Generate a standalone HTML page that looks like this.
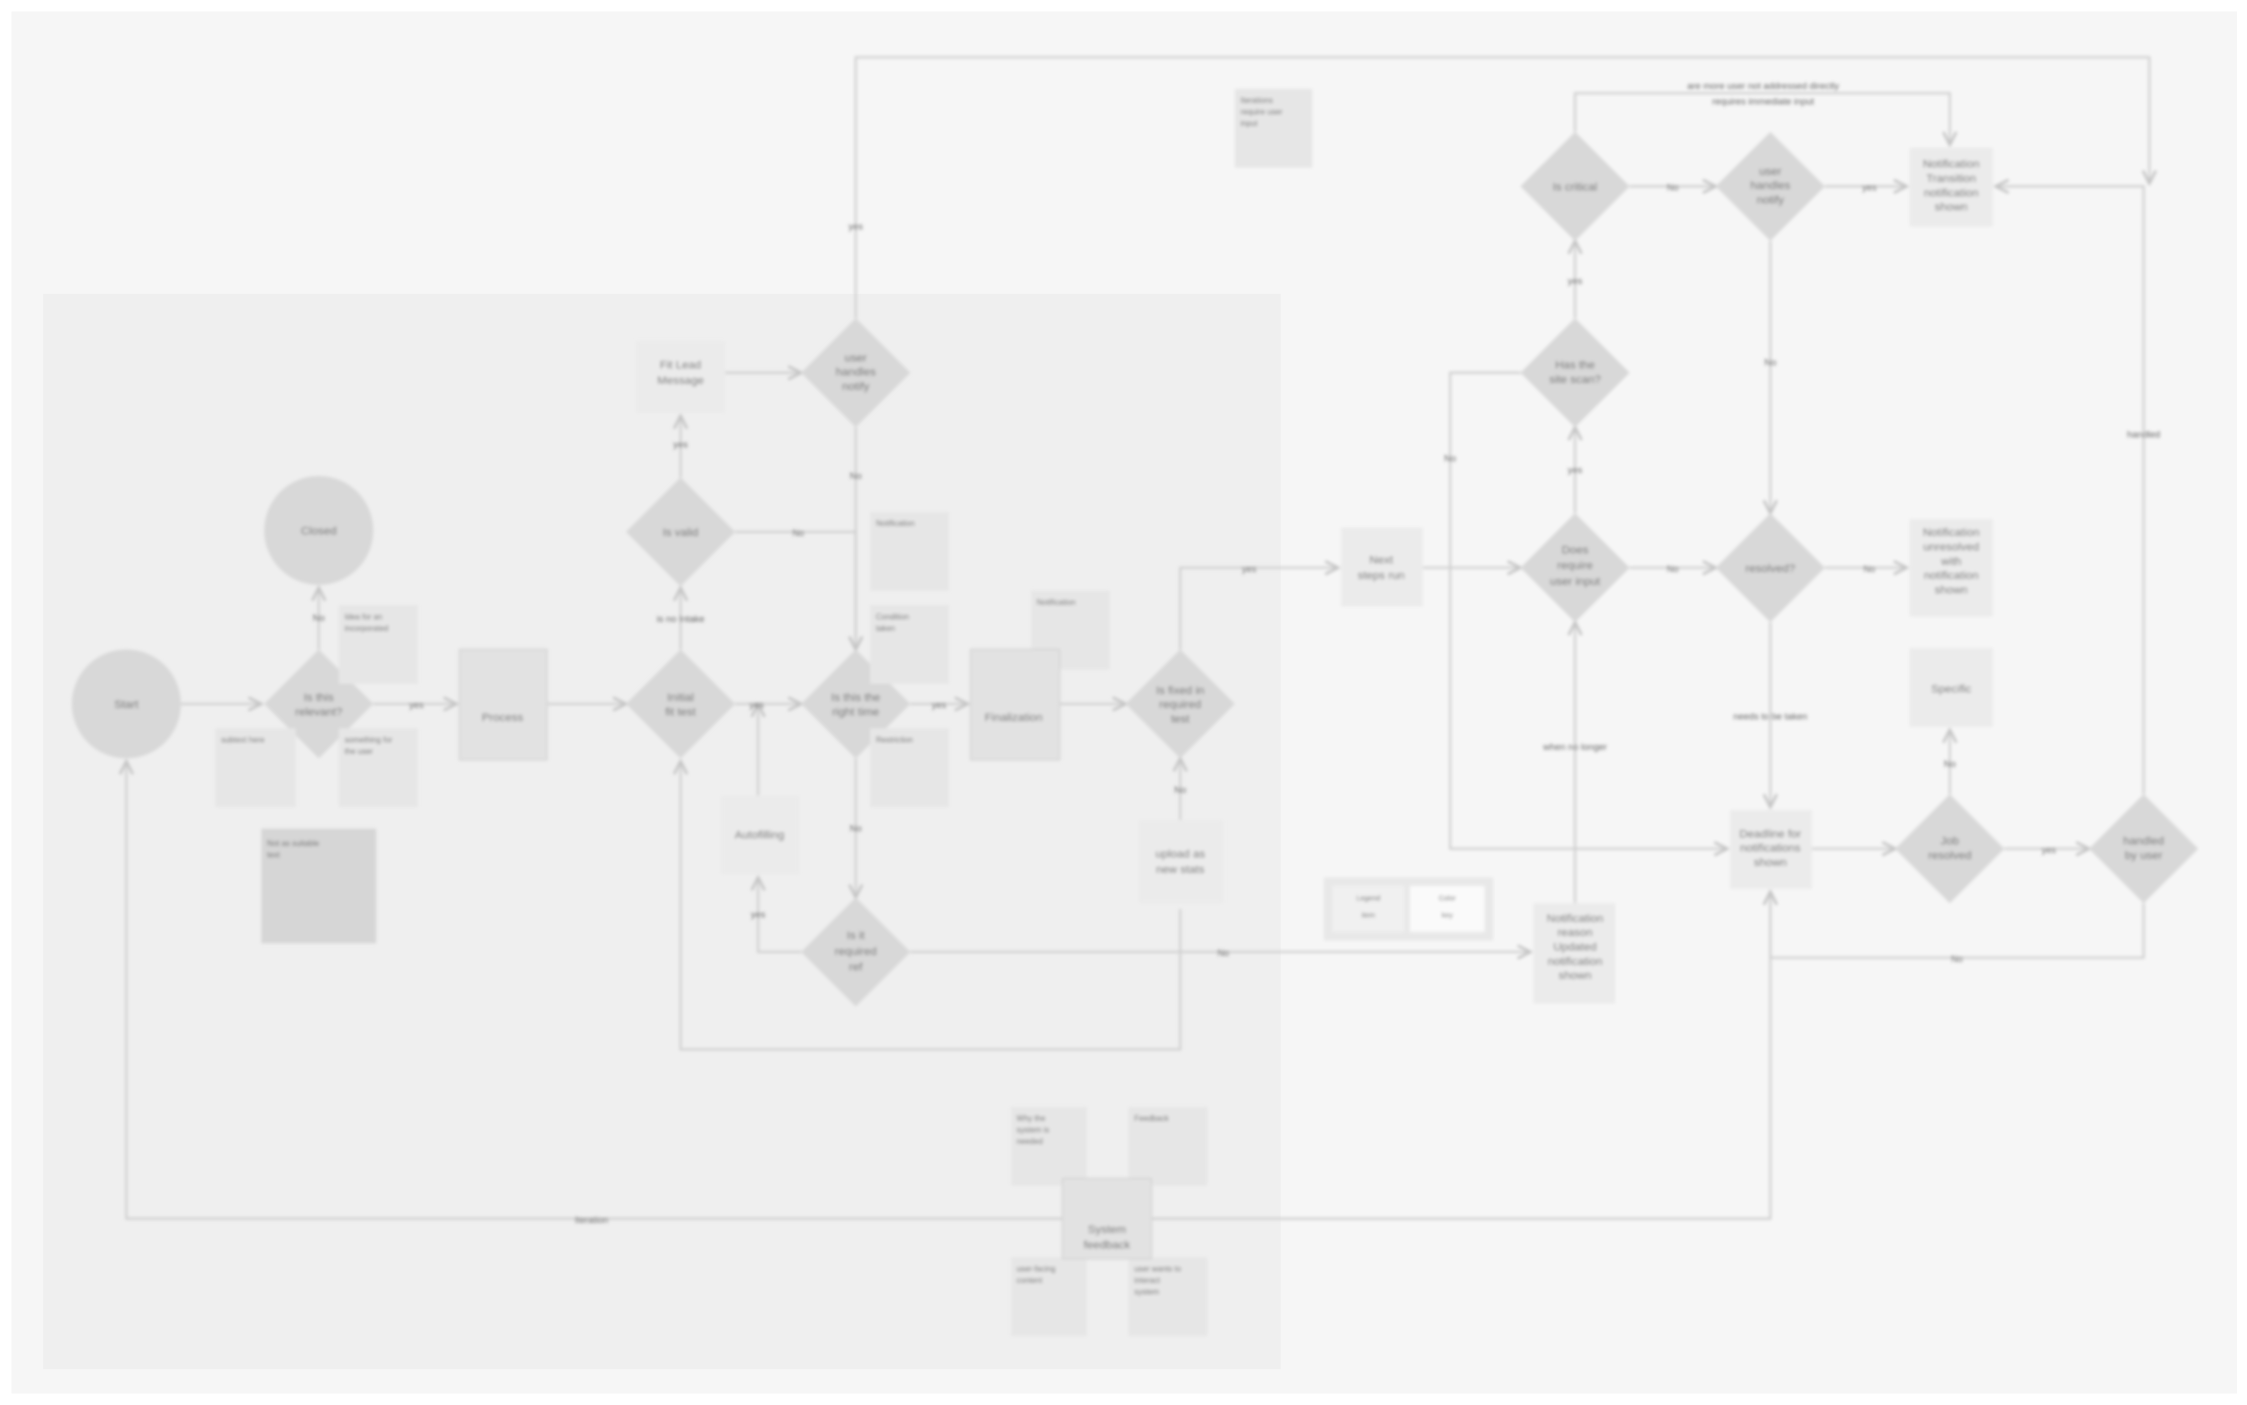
<!DOCTYPE html>
<html><head><meta charset="utf-8"><style>
html,body{margin:0;padding:0;background:#fff;}
svg{display:block}
text{font-family:"Liberation Sans",sans-serif;fill:#666;}
</style></head><body>
<svg width="2247" height="1405" viewBox="0 0 1565 980" preserveAspectRatio="none" xmlns="http://www.w3.org/2000/svg">
<defs>
<marker id="a" markerWidth="8" markerHeight="8" refX="7" refY="4" orient="auto"><path d="M1,1 L7,4 L1,7" fill="none" stroke="#c4c4c4" stroke-width="1.2"/></marker>
<filter id="b"><feGaussianBlur stdDeviation="1.2"/></filter>
</defs>
<rect x="8" y="8" width="1550" height="964" fill="#f6f6f6"/>
<rect x="30" y="205" width="862" height="750" fill="#efefef"/>
<g filter="url(#b)">
<g fill="none" stroke="#cfcfcf" stroke-width="1.5" marker-end="url(#a)">
<path d="M126,491 H182"/>
<path d="M260,491 H318"/>
<path d="M222,453 V410"/>
<path d="M381,491 H436"/>
<path d="M512,491 H558"/>
<path d="M634,491 H674"/>
<path d="M738,491 H784"/>
<path d="M474,453 V410"/>
<path d="M474,333 V290"/>
<path d="M512,371 H596 V453"/>
<path d="M505,260 H558"/>
<path d="M596,298 V453"/>
<path d="M596,529 V626"/>
<path d="M558,664 H528 V612"/>
<path d="M528,555 V491"/>
<path d="M634,664 H1066"/>
<path d="M822,572 V529"/>
<path d="M822,634 V732 H474 V531"/>
<path d="M822,453 V396 H932"/>
<path d="M991,396 H1059"/>
<path d="M1097,358 V298"/>
<path d="M1097,222 V168"/>
<path d="M1135,130 H1195"/>
<path d="M1271,130 H1328"/>
<path d="M1135,396 H1195"/>
<path d="M1271,396 H1328"/>
<path d="M1233,168 V358"/>
<path d="M1233,434 V563"/>
<path d="M1097,630 V434"/>
<path d="M1059,260 H1010 V592 H1203"/>
<path d="M1262,592 H1320"/>
<path d="M1396,592 H1455"/>
<path d="M1358,554 V509"/>
<path d="M1493,554 V130 H1390"/>
<path d="M1493,630 V668 H1233 V622"/>
<path d="M1097,92 V65 H1358 V101"/>
<path d="M596,222 V40 H1497 V128"/>
<path d="M740,850 H88 V531"/>
<path d="M802,850 H1233 V622"/>
</g>
<g fill="#d8d8d8">
<circle cx="88" cy="491" r="38"/>
<circle cx="222" cy="370" r="38"/>
<polygon points="222,453 260,491 222,529 184,491"/>
<polygon points="474,453 512,491 474,529 436,491"/>
<polygon points="474,333 512,371 474,409 436,371"/>
<polygon points="596,222 634,260 596,298 558,260"/>
<polygon points="596,453 634,491 596,529 558,491"/>
<polygon points="596,626 634,664 596,702 558,664"/>
<polygon points="822,453 860,491 822,529 784,491"/>
<polygon points="1097,92 1135,130 1097,168 1059,130"/>
<polygon points="1233,92 1271,130 1233,168 1195,130"/>
<polygon points="1097,222 1135,260 1097,298 1059,260"/>
<polygon points="1097,358 1135,396 1097,434 1059,396"/>
<polygon points="1233,358 1271,396 1233,434 1195,396"/>
<polygon points="1358,554 1396,592 1358,630 1320,592"/>
<polygon points="1493,554 1531,592 1493,630 1455,592"/>
</g>
<g fill="#e6e6e6">
<rect x="236" y="422" width="55" height="55"/>
<rect x="150" y="508" width="56" height="55"/>
<rect x="236" y="508" width="55" height="55"/>
<rect x="606" y="357" width="55" height="55"/>
<rect x="606" y="422" width="55" height="55"/>
<rect x="606" y="508" width="55" height="55"/>
<rect x="718" y="412" width="55" height="55"/>
<rect x="860" y="62" width="54" height="55"/>
<rect x="704" y="772" width="53" height="55"/>
<rect x="786" y="772" width="55" height="55"/>
<rect x="704" y="877" width="53" height="55"/>
<rect x="786" y="877" width="55" height="55"/>
</g>
<rect x="182" y="578" width="80" height="80" fill="#d6d6d6"/>
<g fill="#e2e2e2" stroke="#d4d4d4">
<rect x="320" y="453" width="61" height="77"/>
<rect x="676" y="453" width="62" height="77"/>
<rect x="740" y="822" width="62" height="56"/>
</g>
<g fill="#ebebeb">
<rect x="443" y="238" width="62" height="50"/>
<rect x="502" y="555" width="55" height="55"/>
<rect x="793" y="572" width="59" height="58"/>
<rect x="934" y="368" width="57" height="55"/>
<rect x="1330" y="103" width="58" height="55"/>
<rect x="1330" y="362" width="58" height="68"/>
<rect x="1330" y="452" width="58" height="55"/>
<rect x="1205" y="565" width="57" height="55"/>
<rect x="1068" y="630" width="57" height="70"/>
</g>
<rect x="922" y="612" width="118" height="44" fill="#e8e8e8"/>
<rect x="928" y="618" width="50" height="32" fill="#f0f0f0"/>
<rect x="982" y="618" width="52" height="32" fill="#fafafa"/>
<g font-size="5" text-anchor="middle" fill="#aaa">
<text x="953" y="628">Legend</text><text x="953" y="640">item</text>
<text x="1008" y="628">Color</text><text x="1008" y="640">key</text>
</g>
<g font-size="8" text-anchor="middle">
<text x="88" y="494">Start</text>
<text x="222" y="373">Closed</text>
<text x="222" y="489">Is this</text><text x="222" y="499">relevant?</text>
<text x="350" y="503">Process</text>
<text x="474" y="489">Initial</text><text x="474" y="499">fit test</text>
<text x="474" y="374">Is valid</text>
<text x="474" y="257">Fit Lead</text><text x="474" y="268">Message</text>
<text x="596" y="252">user</text><text x="596" y="262">handles</text><text x="596" y="272">notify</text>
<text x="596" y="489">Is this the</text><text x="596" y="499">right time</text>
<text x="596" y="655">Is it</text><text x="596" y="666">required</text><text x="596" y="677">ref</text>
<text x="706" y="503">Finalization</text>
<text x="822" y="484">Is fixed in</text><text x="822" y="494">required</text><text x="822" y="504">test</text>
<text x="822" y="598">upload as</text><text x="822" y="609">new stats</text>
<text x="529" y="585">Autofilling</text>
<text x="962" y="393">Next</text><text x="962" y="404">steps run</text>
<text x="1097" y="133">Is critical</text>
<text x="1233" y="122">user</text><text x="1233" y="132">handles</text><text x="1233" y="142">notify</text>
<text x="1097" y="257">Has the</text><text x="1097" y="267">site scan?</text>
<text x="1097" y="386">Does</text><text x="1097" y="397">require</text><text x="1097" y="408">user input</text>
<text x="1233" y="399">resolved?</text>
<text x="1359" y="117">Notification</text><text x="1359" y="127">Transition</text><text x="1359" y="137">notification</text><text x="1359" y="147">shown</text>
<text x="1359" y="374">Notification</text><text x="1359" y="384">unresolved</text><text x="1359" y="394">with</text><text x="1359" y="404">notification</text><text x="1359" y="414">shown</text>
<text x="1359" y="483">Specific</text>
<text x="1233" y="584">Deadline for</text><text x="1233" y="594">notifications</text><text x="1233" y="604">shown</text>
<text x="1097" y="643">Notification</text><text x="1097" y="653">reason</text><text x="1097" y="663">Updated</text><text x="1097" y="673">notification</text><text x="1097" y="683">shown</text>
<text x="1358" y="589">Job</text><text x="1358" y="599">resolved</text>
<text x="1493" y="589">handled</text><text x="1493" y="599">by user</text>
<text x="771" y="860">System</text><text x="771" y="871">feedback</text>
</g>
<g font-size="6.5" text-anchor="middle" fill="#777">
<text x="222" y="433">No</text>
<text x="290" y="494">yes</text>
<text x="474" y="312">yes</text>
<text x="474" y="434">is no Intake</text>
<text x="556" y="374">No</text>
<text x="596" y="160">yes</text>
<text x="596" y="334">No</text>
<text x="527" y="494">yes</text>
<text x="654" y="494">yes</text>
<text x="596" y="580">No</text>
<text x="528" y="640">yes</text>
<text x="822" y="553">No</text>
<text x="852" y="667">No</text>
<text x="870" y="399">yes</text>
<text x="1097" y="198">yes</text>
<text x="1097" y="330">yes</text>
<text x="1010" y="322">No</text>
<text x="1165" y="133">No</text>
<text x="1302" y="133">yes</text>
<text x="1165" y="399">No</text>
<text x="1302" y="399">No</text>
<text x="1233" y="255">No</text>
<text x="1233" y="502">needs to be taken</text>
<text x="1097" y="523">when no longer</text>
<text x="1427" y="595">yes</text>
<text x="1358" y="535">No</text>
<text x="1493" y="305">handled</text>
<text x="1363" y="671">No</text>
<text x="1228" y="62">are more user not addressed directly</text>
<text x="1228" y="73">requires immediate input</text>
<text x="412" y="853">Iteration</text>
</g>
<g font-size="5.5" fill="#999">
<text x="240" y="432">Idea for an</text><text x="240" y="440">incorporated</text>
<text x="154" y="518">subtext here</text>
<text x="240" y="518">something for</text><text x="240" y="526">the user</text>
<text x="186" y="590">Not as suitable</text><text x="186" y="598">text</text>
<text x="610" y="367">Notification</text>
<text x="610" y="432">Condition</text><text x="610" y="440">taken</text>
<text x="610" y="518">Restriction</text>
<text x="722" y="422">Notification</text>
<text x="864" y="72">Iterations</text><text x="864" y="80">require user</text><text x="864" y="88">input</text>
<text x="708" y="782">Why the</text><text x="708" y="790">system is</text><text x="708" y="798">needed</text>
<text x="790" y="782">Feedback</text>
<text x="708" y="887">user-facing</text><text x="708" y="895">content</text>
<text x="790" y="887">user wants to</text><text x="790" y="895">interact</text><text x="790" y="903">system</text>
</g>
</g>
</svg>
</body></html>
